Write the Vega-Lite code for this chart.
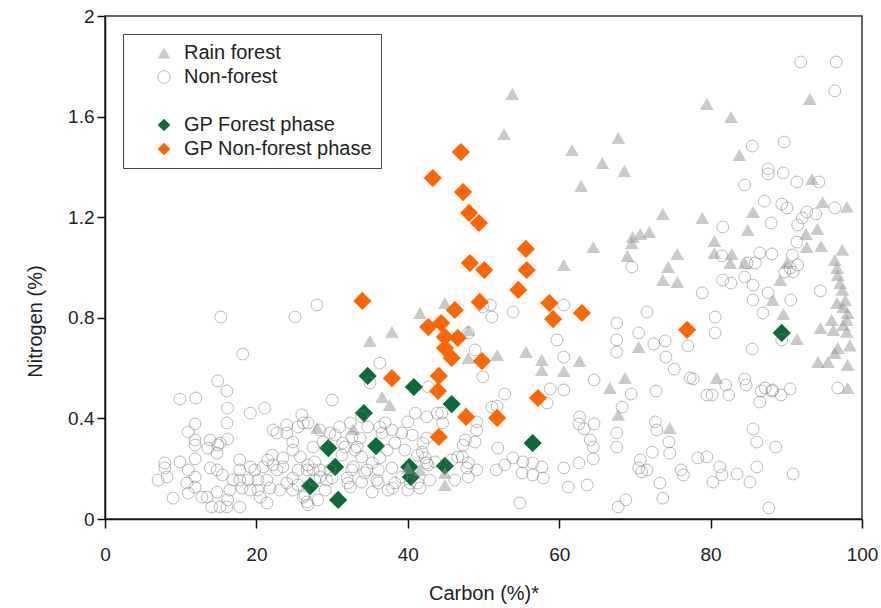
{
"$schema": "https://vega.github.io/schema/vega-lite/v6.json",
"width": 757, "height": 503,
"autosize": {"type": "none"},
"padding": {"left": 105, "top": 16, "right": 19, "bottom": 89},
"background": "white",
"config": {
  "view": {"stroke": "#333", "strokeWidth": 1.5},
  "font": "Liberation Sans",
  "axis": {"domainColor": "#111", "domainWidth": 1.5, "tickColor": "#111", "tickWidth": 1.5, "labelFontSize": 19, "labelColor": "#222", "labelFont": "Liberation Sans", "titleFont": "Liberation Sans", "titleFontSize": 20, "titleFontWeight": "normal", "titleColor": "#222", "grid": false, "labelFlush": false, "labelOverlap": false}
},
"data": {"values": [
{"carbon":34.7,"nitrogen":0.569,"group":"GP Forest phase"},
{"carbon":40.8,"nitrogen":0.525,"group":"GP Forest phase"},
{"carbon":45.8,"nitrogen":0.457,"group":"GP Forest phase"},
{"carbon":34.2,"nitrogen":0.421,"group":"GP Forest phase"},
{"carbon":35.8,"nitrogen":0.290,"group":"GP Forest phase"},
{"carbon":29.5,"nitrogen":0.282,"group":"GP Forest phase"},
{"carbon":30.4,"nitrogen":0.207,"group":"GP Forest phase"},
{"carbon":40.2,"nitrogen":0.207,"group":"GP Forest phase"},
{"carbon":40.4,"nitrogen":0.167,"group":"GP Forest phase"},
{"carbon":44.9,"nitrogen":0.211,"group":"GP Forest phase"},
{"carbon":27.1,"nitrogen":0.131,"group":"GP Forest phase"},
{"carbon":30.8,"nitrogen":0.076,"group":"GP Forest phase"},
{"carbon":56.5,"nitrogen":0.302,"group":"GP Forest phase"},
{"carbon":89.4,"nitrogen":0.740,"group":"GP Forest phase"},
{"carbon":53.8,"nitrogen":1.690,"group":"Rain forest"},
{"carbon":52.7,"nitrogen":1.531,"group":"Rain forest"},
{"carbon":61.7,"nitrogen":1.467,"group":"Rain forest"},
{"carbon":67.8,"nitrogen":1.515,"group":"Rain forest"},
{"carbon":65.7,"nitrogen":1.415,"group":"Rain forest"},
{"carbon":68.6,"nitrogen":1.384,"group":"Rain forest"},
{"carbon":62.9,"nitrogen":1.324,"group":"Rain forest"},
{"carbon":73.7,"nitrogen":1.213,"group":"Rain forest"},
{"carbon":69.7,"nitrogen":1.121,"group":"Rain forest"},
{"carbon":70.7,"nitrogen":1.133,"group":"Rain forest"},
{"carbon":71.9,"nitrogen":1.141,"group":"Rain forest"},
{"carbon":69.6,"nitrogen":1.097,"group":"Rain forest"},
{"carbon":64.5,"nitrogen":1.081,"group":"Rain forest"},
{"carbon":69.0,"nitrogen":1.046,"group":"Rain forest"},
{"carbon":75.6,"nitrogen":1.054,"group":"Rain forest"},
{"carbon":60.6,"nitrogen":1.010,"group":"Rain forest"},
{"carbon":74.4,"nitrogen":1.002,"group":"Rain forest"},
{"carbon":79.5,"nitrogen":1.650,"group":"Rain forest"},
{"carbon":82.7,"nitrogen":1.598,"group":"Rain forest"},
{"carbon":93.1,"nitrogen":1.670,"group":"Rain forest"},
{"carbon":83.8,"nitrogen":1.447,"group":"Rain forest"},
{"carbon":93.4,"nitrogen":1.352,"group":"Rain forest"},
{"carbon":94.8,"nitrogen":1.260,"group":"Rain forest"},
{"carbon":98.0,"nitrogen":1.241,"group":"Rain forest"},
{"carbon":85.6,"nitrogen":1.221,"group":"Rain forest"},
{"carbon":78.9,"nitrogen":1.197,"group":"Rain forest"},
{"carbon":84.9,"nitrogen":1.149,"group":"Rain forest"},
{"carbon":94.1,"nitrogen":1.153,"group":"Rain forest"},
{"carbon":92.6,"nitrogen":1.133,"group":"Rain forest"},
{"carbon":80.5,"nitrogen":1.105,"group":"Rain forest"},
{"carbon":92.7,"nitrogen":1.081,"group":"Rain forest"},
{"carbon":94.6,"nitrogen":1.085,"group":"Rain forest"},
{"carbon":80.5,"nitrogen":1.058,"group":"Rain forest"},
{"carbon":82.8,"nitrogen":1.054,"group":"Rain forest"},
{"carbon":82.6,"nitrogen":1.018,"group":"Rain forest"},
{"carbon":84.5,"nitrogen":1.018,"group":"Rain forest"},
{"carbon":96.4,"nitrogen":1.030,"group":"Rain forest"},
{"carbon":96.7,"nitrogen":0.998,"group":"Rain forest"},
{"carbon":90.1,"nitrogen":1.018,"group":"Rain forest"},
{"carbon":96.8,"nitrogen":0.970,"group":"Rain forest"},
{"carbon":89.2,"nitrogen":0.950,"group":"Rain forest"},
{"carbon":97.1,"nitrogen":0.938,"group":"Rain forest"},
{"carbon":97.4,"nitrogen":0.911,"group":"Rain forest"},
{"carbon":88.2,"nitrogen":0.871,"group":"Rain forest"},
{"carbon":96.7,"nitrogen":0.859,"group":"Rain forest"},
{"carbon":97.5,"nitrogen":0.843,"group":"Rain forest"},
{"carbon":98.1,"nitrogen":0.819,"group":"Rain forest"},
{"carbon":98.0,"nitrogen":0.791,"group":"Rain forest"},
{"carbon":89.6,"nitrogen":0.815,"group":"Rain forest"},
{"carbon":96.0,"nitrogen":0.791,"group":"Rain forest"},
{"carbon":97.5,"nitrogen":0.771,"group":"Rain forest"},
{"carbon":94.5,"nitrogen":0.759,"group":"Rain forest"},
{"carbon":96.2,"nitrogen":0.751,"group":"Rain forest"},
{"carbon":98.0,"nitrogen":0.744,"group":"Rain forest"},
{"carbon":91.4,"nitrogen":0.716,"group":"Rain forest"},
{"carbon":96.8,"nitrogen":0.680,"group":"Rain forest"},
{"carbon":96.4,"nitrogen":0.660,"group":"Rain forest"},
{"carbon":94.2,"nitrogen":0.624,"group":"Rain forest"},
{"carbon":95.5,"nitrogen":0.624,"group":"Rain forest"},
{"carbon":98.1,"nitrogen":0.612,"group":"Rain forest"},
{"carbon":98.1,"nitrogen":0.521,"group":"Rain forest"},
{"carbon":97.4,"nitrogen":1.070,"group":"Rain forest"},
{"carbon":97.8,"nitrogen":0.870,"group":"Rain forest"},
{"carbon":98.4,"nitrogen":0.690,"group":"Rain forest"},
{"carbon":73.7,"nitrogen":0.950,"group":"Rain forest"},
{"carbon":75.6,"nitrogen":0.942,"group":"Rain forest"},
{"carbon":51.8,"nitrogen":0.652,"group":"Rain forest"},
{"carbon":55.6,"nitrogen":0.664,"group":"Rain forest"},
{"carbon":57.7,"nitrogen":0.632,"group":"Rain forest"},
{"carbon":57.7,"nitrogen":0.592,"group":"Rain forest"},
{"carbon":60.6,"nitrogen":0.588,"group":"Rain forest"},
{"carbon":62.7,"nitrogen":0.628,"group":"Rain forest"},
{"carbon":68.7,"nitrogen":0.561,"group":"Rain forest"},
{"carbon":66.7,"nitrogen":0.521,"group":"Rain forest"},
{"carbon":70.5,"nitrogen":0.684,"group":"Rain forest"},
{"carbon":67.8,"nitrogen":0.414,"group":"Rain forest"},
{"carbon":74.6,"nitrogen":0.362,"group":"Rain forest"},
{"carbon":80.8,"nitrogen":0.561,"group":"Rain forest"},
{"carbon":44.9,"nitrogen":0.859,"group":"Rain forest"},
{"carbon":41.6,"nitrogen":0.819,"group":"Rain forest"},
{"carbon":48.0,"nitrogen":0.751,"group":"Rain forest"},
{"carbon":37.9,"nitrogen":0.744,"group":"Rain forest"},
{"carbon":35.0,"nitrogen":0.708,"group":"Rain forest"},
{"carbon":48.0,"nitrogen":0.640,"group":"Rain forest"},
{"carbon":36.6,"nitrogen":0.485,"group":"Rain forest"},
{"carbon":37.6,"nitrogen":0.453,"group":"Rain forest"},
{"carbon":28.0,"nitrogen":0.362,"group":"Rain forest"},
{"carbon":32.8,"nitrogen":0.358,"group":"Rain forest"},
{"carbon":40.0,"nitrogen":0.203,"group":"Rain forest"},
{"carbon":41.6,"nitrogen":0.195,"group":"Rain forest"},
{"carbon":44.9,"nitrogen":0.183,"group":"Rain forest"},
{"carbon":44.9,"nitrogen":0.135,"group":"Rain forest"},
{"carbon":15.3,"nitrogen":0.803,"group":"Non-forest"},
{"carbon":25.1,"nitrogen":0.803,"group":"Non-forest"},
{"carbon":18.2,"nitrogen":0.656,"group":"Non-forest"},
{"carbon":14.9,"nitrogen":0.549,"group":"Non-forest"},
{"carbon":16.1,"nitrogen":0.509,"group":"Non-forest"},
{"carbon":9.9,"nitrogen":0.477,"group":"Non-forest"},
{"carbon":12.0,"nitrogen":0.481,"group":"Non-forest"},
{"carbon":16.2,"nitrogen":0.441,"group":"Non-forest"},
{"carbon":19.2,"nitrogen":0.421,"group":"Non-forest"},
{"carbon":21.1,"nitrogen":0.441,"group":"Non-forest"},
{"carbon":26.0,"nitrogen":0.414,"group":"Non-forest"},
{"carbon":16.1,"nitrogen":0.382,"group":"Non-forest"},
{"carbon":11.9,"nitrogen":0.378,"group":"Non-forest"},
{"carbon":11.0,"nitrogen":0.346,"group":"Non-forest"},
{"carbon":11.9,"nitrogen":0.314,"group":"Non-forest"},
{"carbon":13.9,"nitrogen":0.314,"group":"Non-forest"},
{"carbon":15.2,"nitrogen":0.302,"group":"Non-forest"},
{"carbon":16.2,"nitrogen":0.318,"group":"Non-forest"},
{"carbon":13.6,"nitrogen":0.282,"group":"Non-forest"},
{"carbon":14.8,"nitrogen":0.262,"group":"Non-forest"},
{"carbon":11.9,"nitrogen":0.294,"group":"Non-forest"},
{"carbon":11.9,"nitrogen":0.239,"group":"Non-forest"},
{"carbon":9.9,"nitrogen":0.227,"group":"Non-forest"},
{"carbon":7.9,"nitrogen":0.223,"group":"Non-forest"},
{"carbon":7.9,"nitrogen":0.203,"group":"Non-forest"},
{"carbon":7.0,"nitrogen":0.155,"group":"Non-forest"},
{"carbon":8.2,"nitrogen":0.167,"group":"Non-forest"},
{"carbon":11.0,"nitrogen":0.195,"group":"Non-forest"},
{"carbon":13.9,"nitrogen":0.203,"group":"Non-forest"},
{"carbon":14.8,"nitrogen":0.195,"group":"Non-forest"},
{"carbon":15.5,"nitrogen":0.175,"group":"Non-forest"},
{"carbon":11.9,"nitrogen":0.167,"group":"Non-forest"},
{"carbon":10.8,"nitrogen":0.143,"group":"Non-forest"},
{"carbon":11.9,"nitrogen":0.127,"group":"Non-forest"},
{"carbon":9.0,"nitrogen":0.083,"group":"Non-forest"},
{"carbon":11.0,"nitrogen":0.103,"group":"Non-forest"},
{"carbon":12.8,"nitrogen":0.087,"group":"Non-forest"},
{"carbon":13.5,"nitrogen":0.087,"group":"Non-forest"},
{"carbon":14.1,"nitrogen":0.048,"group":"Non-forest"},
{"carbon":15.2,"nitrogen":0.048,"group":"Non-forest"},
{"carbon":16.2,"nitrogen":0.076,"group":"Non-forest"},
{"carbon":16.1,"nitrogen":0.048,"group":"Non-forest"},
{"carbon":17.8,"nitrogen":0.048,"group":"Non-forest"},
{"carbon":14.8,"nitrogen":0.107,"group":"Non-forest"},
{"carbon":16.5,"nitrogen":0.115,"group":"Non-forest"},
{"carbon":18.1,"nitrogen":0.123,"group":"Non-forest"},
{"carbon":17.8,"nitrogen":0.155,"group":"Non-forest"},
{"carbon":17.8,"nitrogen":0.235,"group":"Non-forest"},
{"carbon":19.2,"nitrogen":0.207,"group":"Non-forest"},
{"carbon":19.8,"nitrogen":0.195,"group":"Non-forest"},
{"carbon":17.8,"nitrogen":0.195,"group":"Non-forest"},
{"carbon":16.9,"nitrogen":0.155,"group":"Non-forest"},
{"carbon":18.9,"nitrogen":0.155,"group":"Non-forest"},
{"carbon":20.2,"nitrogen":0.155,"group":"Non-forest"},
{"carbon":20.9,"nitrogen":0.207,"group":"Non-forest"},
{"carbon":21.5,"nitrogen":0.235,"group":"Non-forest"},
{"carbon":22.1,"nitrogen":0.254,"group":"Non-forest"},
{"carbon":22.2,"nitrogen":0.215,"group":"Non-forest"},
{"carbon":22.7,"nitrogen":0.195,"group":"Non-forest"},
{"carbon":23.5,"nitrogen":0.207,"group":"Non-forest"},
{"carbon":23.5,"nitrogen":0.243,"group":"Non-forest"},
{"carbon":21.4,"nitrogen":0.155,"group":"Non-forest"},
{"carbon":23.1,"nitrogen":0.115,"group":"Non-forest"},
{"carbon":21.8,"nitrogen":0.123,"group":"Non-forest"},
{"carbon":19.2,"nitrogen":0.115,"group":"Non-forest"},
{"carbon":20.2,"nitrogen":0.115,"group":"Non-forest"},
{"carbon":20.5,"nitrogen":0.087,"group":"Non-forest"},
{"carbon":21.4,"nitrogen":0.064,"group":"Non-forest"},
{"carbon":24.0,"nitrogen":0.143,"group":"Non-forest"},
{"carbon":24.8,"nitrogen":0.163,"group":"Non-forest"},
{"carbon":24.8,"nitrogen":0.115,"group":"Non-forest"},
{"carbon":26.2,"nitrogen":0.087,"group":"Non-forest"},
{"carbon":26.7,"nitrogen":0.068,"group":"Non-forest"},
{"carbon":25.5,"nitrogen":0.195,"group":"Non-forest"},
{"carbon":26.7,"nitrogen":0.195,"group":"Non-forest"},
{"carbon":27.5,"nitrogen":0.195,"group":"Non-forest"},
{"carbon":22.7,"nitrogen":0.342,"group":"Non-forest"},
{"carbon":22.2,"nitrogen":0.354,"group":"Non-forest"},
{"carbon":24.0,"nitrogen":0.374,"group":"Non-forest"},
{"carbon":24.8,"nitrogen":0.306,"group":"Non-forest"},
{"carbon":24.8,"nitrogen":0.274,"group":"Non-forest"},
{"carbon":24.0,"nitrogen":0.342,"group":"Non-forest"},
{"carbon":26.2,"nitrogen":0.382,"group":"Non-forest"},
{"carbon":27.5,"nitrogen":0.286,"group":"Non-forest"},
{"carbon":27.7,"nitrogen":0.227,"group":"Non-forest"},
{"carbon":14.9,"nitrogen":0.294,"group":"Non-forest"},
{"carbon":28.0,"nitrogen":0.851,"group":"Non-forest"},
{"carbon":36.3,"nitrogen":0.620,"group":"Non-forest"},
{"carbon":35.0,"nitrogen":0.541,"group":"Non-forest"},
{"carbon":30.0,"nitrogen":0.473,"group":"Non-forest"},
{"carbon":26.8,"nitrogen":0.382,"group":"Non-forest"},
{"carbon":25.5,"nitrogen":0.366,"group":"Non-forest"},
{"carbon":30.4,"nitrogen":0.334,"group":"Non-forest"},
{"carbon":32.6,"nitrogen":0.326,"group":"Non-forest"},
{"carbon":33.9,"nitrogen":0.406,"group":"Non-forest"},
{"carbon":34.7,"nitrogen":0.366,"group":"Non-forest"},
{"carbon":36.6,"nitrogen":0.342,"group":"Non-forest"},
{"carbon":37.9,"nitrogen":0.354,"group":"Non-forest"},
{"carbon":39.2,"nitrogen":0.342,"group":"Non-forest"},
{"carbon":40.0,"nitrogen":0.386,"group":"Non-forest"},
{"carbon":41.0,"nitrogen":0.421,"group":"Non-forest"},
{"carbon":42.5,"nitrogen":0.406,"group":"Non-forest"},
{"carbon":37.0,"nitrogen":0.382,"group":"Non-forest"},
{"carbon":33.7,"nitrogen":0.322,"group":"Non-forest"},
{"carbon":31.7,"nitrogen":0.286,"group":"Non-forest"},
{"carbon":33.0,"nitrogen":0.274,"group":"Non-forest"},
{"carbon":31.3,"nitrogen":0.254,"group":"Non-forest"},
{"carbon":33.9,"nitrogen":0.247,"group":"Non-forest"},
{"carbon":35.3,"nitrogen":0.223,"group":"Non-forest"},
{"carbon":36.3,"nitrogen":0.243,"group":"Non-forest"},
{"carbon":37.3,"nitrogen":0.274,"group":"Non-forest"},
{"carbon":38.3,"nitrogen":0.302,"group":"Non-forest"},
{"carbon":39.6,"nitrogen":0.274,"group":"Non-forest"},
{"carbon":41.3,"nitrogen":0.254,"group":"Non-forest"},
{"carbon":42.5,"nitrogen":0.223,"group":"Non-forest"},
{"carbon":43.6,"nitrogen":0.227,"group":"Non-forest"},
{"carbon":45.8,"nitrogen":0.235,"group":"Non-forest"},
{"carbon":47.2,"nitrogen":0.247,"group":"Non-forest"},
{"carbon":48.0,"nitrogen":0.223,"group":"Non-forest"},
{"carbon":49.1,"nitrogen":0.195,"group":"Non-forest"},
{"carbon":48.0,"nitrogen":0.167,"group":"Non-forest"},
{"carbon":46.2,"nitrogen":0.155,"group":"Non-forest"},
{"carbon":41.3,"nitrogen":0.143,"group":"Non-forest"},
{"carbon":40.0,"nitrogen":0.115,"group":"Non-forest"},
{"carbon":38.3,"nitrogen":0.143,"group":"Non-forest"},
{"carbon":37.9,"nitrogen":0.203,"group":"Non-forest"},
{"carbon":36.1,"nitrogen":0.195,"group":"Non-forest"},
{"carbon":34.3,"nitrogen":0.183,"group":"Non-forest"},
{"carbon":32.6,"nitrogen":0.195,"group":"Non-forest"},
{"carbon":32.0,"nitrogen":0.163,"group":"Non-forest"},
{"carbon":33.9,"nitrogen":0.147,"group":"Non-forest"},
{"carbon":36.1,"nitrogen":0.143,"group":"Non-forest"},
{"carbon":37.4,"nitrogen":0.115,"group":"Non-forest"},
{"carbon":39.2,"nitrogen":0.167,"group":"Non-forest"},
{"carbon":30.0,"nitrogen":0.163,"group":"Non-forest"},
{"carbon":28.4,"nitrogen":0.195,"group":"Non-forest"},
{"carbon":27.7,"nitrogen":0.155,"group":"Non-forest"},
{"carbon":26.8,"nitrogen":0.215,"group":"Non-forest"},
{"carbon":25.8,"nitrogen":0.247,"group":"Non-forest"},
{"carbon":25.5,"nitrogen":0.135,"group":"Non-forest"},
{"carbon":26.4,"nitrogen":0.095,"group":"Non-forest"},
{"carbon":28.1,"nitrogen":0.076,"group":"Non-forest"},
{"carbon":26.8,"nitrogen":0.056,"group":"Non-forest"},
{"carbon":29.1,"nitrogen":0.115,"group":"Non-forest"},
{"carbon":32.4,"nitrogen":0.127,"group":"Non-forest"},
{"carbon":35.3,"nitrogen":0.107,"group":"Non-forest"},
{"carbon":49.9,"nitrogen":0.843,"group":"Non-forest"},
{"carbon":48.9,"nitrogen":0.672,"group":"Non-forest"},
{"carbon":49.9,"nitrogen":0.565,"group":"Non-forest"},
{"carbon":49.1,"nitrogen":0.354,"group":"Non-forest"},
{"carbon":47.6,"nitrogen":0.314,"group":"Non-forest"},
{"carbon":48.9,"nitrogen":0.306,"group":"Non-forest"},
{"carbon":51.1,"nitrogen":0.445,"group":"Non-forest"},
{"carbon":48.0,"nitrogen":0.740,"group":"Non-forest"},
{"carbon":51.1,"nitrogen":0.803,"group":"Non-forest"},
{"carbon":42.7,"nitrogen":0.525,"group":"Non-forest"},
{"carbon":44.5,"nitrogen":0.421,"group":"Non-forest"},
{"carbon":41.9,"nitrogen":0.266,"group":"Non-forest"},
{"carbon":36.3,"nitrogen":0.366,"group":"Non-forest"},
{"carbon":32.4,"nitrogen":0.382,"group":"Non-forest"},
{"carbon":31.0,"nitrogen":0.366,"group":"Non-forest"},
{"carbon":29.7,"nitrogen":0.342,"group":"Non-forest"},
{"carbon":28.4,"nitrogen":0.354,"group":"Non-forest"},
{"carbon":28.8,"nitrogen":0.306,"group":"Non-forest"},
{"carbon":31.4,"nitrogen":0.302,"group":"Non-forest"},
{"carbon":33.3,"nitrogen":0.286,"group":"Non-forest"},
{"carbon":42.0,"nitrogen":0.302,"group":"Non-forest"},
{"carbon":40.6,"nitrogen":0.334,"group":"Non-forest"},
{"carbon":42.5,"nitrogen":0.322,"group":"Non-forest"},
{"carbon":43.9,"nitrogen":0.421,"group":"Non-forest"},
{"carbon":44.6,"nitrogen":0.382,"group":"Non-forest"},
{"carbon":49.1,"nitrogen":0.386,"group":"Non-forest"},
{"carbon":47.3,"nitrogen":0.294,"group":"Non-forest"},
{"carbon":46.6,"nitrogen":0.247,"group":"Non-forest"},
{"carbon":47.8,"nitrogen":0.203,"group":"Non-forest"},
{"carbon":38.0,"nitrogen":0.123,"group":"Non-forest"},
{"carbon":35.9,"nitrogen":0.155,"group":"Non-forest"},
{"carbon":34.6,"nitrogen":0.195,"group":"Non-forest"},
{"carbon":32.8,"nitrogen":0.207,"group":"Non-forest"},
{"carbon":29.7,"nitrogen":0.195,"group":"Non-forest"},
{"carbon":28.4,"nitrogen":0.167,"group":"Non-forest"},
{"carbon":29.3,"nitrogen":0.155,"group":"Non-forest"},
{"carbon":32.1,"nitrogen":0.143,"group":"Non-forest"},
{"carbon":40.3,"nitrogen":0.143,"group":"Non-forest"},
{"carbon":41.6,"nitrogen":0.123,"group":"Non-forest"},
{"carbon":42.9,"nitrogen":0.155,"group":"Non-forest"},
{"carbon":42.7,"nitrogen":0.215,"group":"Non-forest"},
{"carbon":42.3,"nitrogen":0.243,"group":"Non-forest"},
{"carbon":50.9,"nitrogen":0.851,"group":"Non-forest"},
{"carbon":53.9,"nitrogen":0.823,"group":"Non-forest"},
{"carbon":60.6,"nitrogen":0.851,"group":"Non-forest"},
{"carbon":67.6,"nitrogen":0.779,"group":"Non-forest"},
{"carbon":70.5,"nitrogen":0.740,"group":"Non-forest"},
{"carbon":71.6,"nitrogen":0.823,"group":"Non-forest"},
{"carbon":59.7,"nitrogen":0.712,"group":"Non-forest"},
{"carbon":67.6,"nitrogen":0.712,"group":"Non-forest"},
{"carbon":67.6,"nitrogen":0.664,"group":"Non-forest"},
{"carbon":72.5,"nitrogen":0.696,"group":"Non-forest"},
{"carbon":74.0,"nitrogen":0.708,"group":"Non-forest"},
{"carbon":74.1,"nitrogen":0.644,"group":"Non-forest"},
{"carbon":75.2,"nitrogen":0.596,"group":"Non-forest"},
{"carbon":77.3,"nitrogen":0.561,"group":"Non-forest"},
{"carbon":60.6,"nitrogen":0.644,"group":"Non-forest"},
{"carbon":64.6,"nitrogen":0.553,"group":"Non-forest"},
{"carbon":60.6,"nitrogen":0.513,"group":"Non-forest"},
{"carbon":58.8,"nitrogen":0.517,"group":"Non-forest"},
{"carbon":58.4,"nitrogen":0.461,"group":"Non-forest"},
{"carbon":69.5,"nitrogen":0.497,"group":"Non-forest"},
{"carbon":72.8,"nitrogen":0.509,"group":"Non-forest"},
{"carbon":68.3,"nitrogen":0.445,"group":"Non-forest"},
{"carbon":52.8,"nitrogen":0.497,"group":"Non-forest"},
{"carbon":51.8,"nitrogen":0.449,"group":"Non-forest"},
{"carbon":62.7,"nitrogen":0.406,"group":"Non-forest"},
{"carbon":62.6,"nitrogen":0.378,"group":"Non-forest"},
{"carbon":63.3,"nitrogen":0.358,"group":"Non-forest"},
{"carbon":64.6,"nitrogen":0.378,"group":"Non-forest"},
{"carbon":64.1,"nitrogen":0.314,"group":"Non-forest"},
{"carbon":64.5,"nitrogen":0.286,"group":"Non-forest"},
{"carbon":67.6,"nitrogen":0.342,"group":"Non-forest"},
{"carbon":67.6,"nitrogen":0.286,"group":"Non-forest"},
{"carbon":72.7,"nitrogen":0.386,"group":"Non-forest"},
{"carbon":72.9,"nitrogen":0.354,"group":"Non-forest"},
{"carbon":74.5,"nitrogen":0.306,"group":"Non-forest"},
{"carbon":74.6,"nitrogen":0.262,"group":"Non-forest"},
{"carbon":72.3,"nitrogen":0.266,"group":"Non-forest"},
{"carbon":70.7,"nitrogen":0.235,"group":"Non-forest"},
{"carbon":70.5,"nitrogen":0.203,"group":"Non-forest"},
{"carbon":70.9,"nitrogen":0.187,"group":"Non-forest"},
{"carbon":71.6,"nitrogen":0.195,"group":"Non-forest"},
{"carbon":64.5,"nitrogen":0.239,"group":"Non-forest"},
{"carbon":62.6,"nitrogen":0.223,"group":"Non-forest"},
{"carbon":60.6,"nitrogen":0.203,"group":"Non-forest"},
{"carbon":76.1,"nitrogen":0.195,"group":"Non-forest"},
{"carbon":76.4,"nitrogen":0.175,"group":"Non-forest"},
{"carbon":73.3,"nitrogen":0.143,"group":"Non-forest"},
{"carbon":73.7,"nitrogen":0.083,"group":"Non-forest"},
{"carbon":63.7,"nitrogen":0.135,"group":"Non-forest"},
{"carbon":61.2,"nitrogen":0.127,"group":"Non-forest"},
{"carbon":67.8,"nitrogen":0.048,"group":"Non-forest"},
{"carbon":68.8,"nitrogen":0.076,"group":"Non-forest"},
{"carbon":54.8,"nitrogen":0.064,"group":"Non-forest"},
{"carbon":51.9,"nitrogen":0.282,"group":"Non-forest"},
{"carbon":53.9,"nitrogen":0.243,"group":"Non-forest"},
{"carbon":52.8,"nitrogen":0.215,"group":"Non-forest"},
{"carbon":51.7,"nitrogen":0.195,"group":"Non-forest"},
{"carbon":55.2,"nitrogen":0.227,"group":"Non-forest"},
{"carbon":56.5,"nitrogen":0.223,"group":"Non-forest"},
{"carbon":57.7,"nitrogen":0.207,"group":"Non-forest"},
{"carbon":55.1,"nitrogen":0.183,"group":"Non-forest"},
{"carbon":56.5,"nitrogen":0.175,"group":"Non-forest"},
{"carbon":57.9,"nitrogen":0.163,"group":"Non-forest"},
{"carbon":69.6,"nitrogen":1.002,"group":"Non-forest"},
{"carbon":81.6,"nitrogen":0.950,"group":"Non-forest"},
{"carbon":82.7,"nitrogen":0.938,"group":"Non-forest"},
{"carbon":84.5,"nitrogen":0.962,"group":"Non-forest"},
{"carbon":85.6,"nitrogen":0.930,"group":"Non-forest"},
{"carbon":85.6,"nitrogen":0.871,"group":"Non-forest"},
{"carbon":87.6,"nitrogen":0.899,"group":"Non-forest"},
{"carbon":90.6,"nitrogen":0.871,"group":"Non-forest"},
{"carbon":86.9,"nitrogen":0.819,"group":"Non-forest"},
{"carbon":78.9,"nitrogen":0.899,"group":"Non-forest"},
{"carbon":80.6,"nitrogen":0.803,"group":"Non-forest"},
{"carbon":80.6,"nitrogen":0.740,"group":"Non-forest"},
{"carbon":77.0,"nitrogen":0.688,"group":"Non-forest"},
{"carbon":85.5,"nitrogen":0.676,"group":"Non-forest"},
{"carbon":89.4,"nitrogen":0.712,"group":"Non-forest"},
{"carbon":94.5,"nitrogen":0.907,"group":"Non-forest"},
{"carbon":89.8,"nitrogen":0.982,"group":"Non-forest"},
{"carbon":90.9,"nitrogen":0.982,"group":"Non-forest"},
{"carbon":77.7,"nitrogen":0.557,"group":"Non-forest"},
{"carbon":79.5,"nitrogen":0.493,"group":"Non-forest"},
{"carbon":80.2,"nitrogen":0.493,"group":"Non-forest"},
{"carbon":82.0,"nitrogen":0.533,"group":"Non-forest"},
{"carbon":82.4,"nitrogen":0.493,"group":"Non-forest"},
{"carbon":84.5,"nitrogen":0.557,"group":"Non-forest"},
{"carbon":84.7,"nitrogen":0.533,"group":"Non-forest"},
{"carbon":86.7,"nitrogen":0.509,"group":"Non-forest"},
{"carbon":86.5,"nitrogen":0.465,"group":"Non-forest"},
{"carbon":88.1,"nitrogen":0.509,"group":"Non-forest"},
{"carbon":89.3,"nitrogen":0.493,"group":"Non-forest"},
{"carbon":90.5,"nitrogen":0.517,"group":"Non-forest"},
{"carbon":96.8,"nitrogen":0.521,"group":"Non-forest"},
{"carbon":85.6,"nitrogen":0.358,"group":"Non-forest"},
{"carbon":86.1,"nitrogen":0.306,"group":"Non-forest"},
{"carbon":88.6,"nitrogen":0.286,"group":"Non-forest"},
{"carbon":78.3,"nitrogen":0.243,"group":"Non-forest"},
{"carbon":79.5,"nitrogen":0.247,"group":"Non-forest"},
{"carbon":81.2,"nitrogen":0.207,"group":"Non-forest"},
{"carbon":81.5,"nitrogen":0.175,"group":"Non-forest"},
{"carbon":80.3,"nitrogen":0.147,"group":"Non-forest"},
{"carbon":83.5,"nitrogen":0.179,"group":"Non-forest"},
{"carbon":85.2,"nitrogen":0.147,"group":"Non-forest"},
{"carbon":86.1,"nitrogen":0.207,"group":"Non-forest"},
{"carbon":90.9,"nitrogen":0.179,"group":"Non-forest"},
{"carbon":87.7,"nitrogen":0.044,"group":"Non-forest"},
{"carbon":91.9,"nitrogen":1.817,"group":"Non-forest"},
{"carbon":96.6,"nitrogen":1.817,"group":"Non-forest"},
{"carbon":96.4,"nitrogen":1.702,"group":"Non-forest"},
{"carbon":85.5,"nitrogen":1.483,"group":"Non-forest"},
{"carbon":89.7,"nitrogen":1.499,"group":"Non-forest"},
{"carbon":87.6,"nitrogen":1.392,"group":"Non-forest"},
{"carbon":87.6,"nitrogen":1.372,"group":"Non-forest"},
{"carbon":89.6,"nitrogen":1.376,"group":"Non-forest"},
{"carbon":91.4,"nitrogen":1.340,"group":"Non-forest"},
{"carbon":94.3,"nitrogen":1.340,"group":"Non-forest"},
{"carbon":84.5,"nitrogen":1.328,"group":"Non-forest"},
{"carbon":87.1,"nitrogen":1.264,"group":"Non-forest"},
{"carbon":89.4,"nitrogen":1.252,"group":"Non-forest"},
{"carbon":90.1,"nitrogen":1.237,"group":"Non-forest"},
{"carbon":88.0,"nitrogen":1.177,"group":"Non-forest"},
{"carbon":92.7,"nitrogen":1.221,"group":"Non-forest"},
{"carbon":93.9,"nitrogen":1.213,"group":"Non-forest"},
{"carbon":96.4,"nitrogen":1.237,"group":"Non-forest"},
{"carbon":92.1,"nitrogen":1.197,"group":"Non-forest"},
{"carbon":91.5,"nitrogen":1.169,"group":"Non-forest"},
{"carbon":91.4,"nitrogen":1.101,"group":"Non-forest"},
{"carbon":81.6,"nitrogen":1.161,"group":"Non-forest"},
{"carbon":86.5,"nitrogen":1.058,"group":"Non-forest"},
{"carbon":88.1,"nitrogen":1.054,"group":"Non-forest"},
{"carbon":90.8,"nitrogen":1.050,"group":"Non-forest"},
{"carbon":81.5,"nitrogen":1.046,"group":"Non-forest"},
{"carbon":84.8,"nitrogen":1.018,"group":"Non-forest"},
{"carbon":85.9,"nitrogen":1.018,"group":"Non-forest"},
{"carbon":91.5,"nitrogen":1.010,"group":"Non-forest"},
{"carbon":90.5,"nitrogen":0.998,"group":"Non-forest"},
{"carbon":87.2,"nitrogen":0.521,"group":"Non-forest"},
{"carbon":88.2,"nitrogen":0.513,"group":"Non-forest"},
{"carbon":34.0,"nitrogen":0.867,"group":"GP Non-forest phase"},
{"carbon":43.3,"nitrogen":1.356,"group":"GP Non-forest phase"},
{"carbon":47.0,"nitrogen":1.459,"group":"GP Non-forest phase"},
{"carbon":47.3,"nitrogen":1.300,"group":"GP Non-forest phase"},
{"carbon":48.1,"nitrogen":1.217,"group":"GP Non-forest phase"},
{"carbon":49.4,"nitrogen":1.177,"group":"GP Non-forest phase"},
{"carbon":48.2,"nitrogen":1.018,"group":"GP Non-forest phase"},
{"carbon":50.1,"nitrogen":0.990,"group":"GP Non-forest phase"},
{"carbon":55.6,"nitrogen":1.074,"group":"GP Non-forest phase"},
{"carbon":55.7,"nitrogen":0.990,"group":"GP Non-forest phase"},
{"carbon":54.6,"nitrogen":0.911,"group":"GP Non-forest phase"},
{"carbon":58.7,"nitrogen":0.859,"group":"GP Non-forest phase"},
{"carbon":59.2,"nitrogen":0.795,"group":"GP Non-forest phase"},
{"carbon":63.0,"nitrogen":0.819,"group":"GP Non-forest phase"},
{"carbon":49.5,"nitrogen":0.863,"group":"GP Non-forest phase"},
{"carbon":46.2,"nitrogen":0.831,"group":"GP Non-forest phase"},
{"carbon":42.7,"nitrogen":0.763,"group":"GP Non-forest phase"},
{"carbon":44.4,"nitrogen":0.779,"group":"GP Non-forest phase"},
{"carbon":44.9,"nitrogen":0.724,"group":"GP Non-forest phase"},
{"carbon":46.6,"nitrogen":0.720,"group":"GP Non-forest phase"},
{"carbon":44.9,"nitrogen":0.680,"group":"GP Non-forest phase"},
{"carbon":45.8,"nitrogen":0.640,"group":"GP Non-forest phase"},
{"carbon":49.8,"nitrogen":0.628,"group":"GP Non-forest phase"},
{"carbon":37.9,"nitrogen":0.560,"group":"GP Non-forest phase"},
{"carbon":44.1,"nitrogen":0.569,"group":"GP Non-forest phase"},
{"carbon":44.0,"nitrogen":0.509,"group":"GP Non-forest phase"},
{"carbon":47.7,"nitrogen":0.406,"group":"GP Non-forest phase"},
{"carbon":51.8,"nitrogen":0.402,"group":"GP Non-forest phase"},
{"carbon":57.2,"nitrogen":0.481,"group":"GP Non-forest phase"},
{"carbon":44.1,"nitrogen":0.326,"group":"GP Non-forest phase"},
{"carbon":76.9,"nitrogen":0.752,"group":"GP Non-forest phase"}
]},
"encoding": {
  "x": {"field": "carbon", "type": "quantitative", "scale": {"domain": [0, 100], "nice": false, "zero": false}, "axis": {"title": "Carbon (%)*", "values": [0, 20, 40, 60, 80, 100], "tickSize": 9, "labelPadding": 17, "titlePadding": 19}},
  "y": {"field": "nitrogen", "type": "quantitative", "scale": {"domain": [0, 2], "nice": false}, "axis": {"title": "Nitrogen (%)", "values": [0, 0.4, 0.8, 1.2, 1.6, 2], "format": ".1~f", "tickSize": 8, "labelPadding": 3, "titlePadding": 22, "titleY": 305}},
  "shape": {"field": "group", "type": "nominal", "scale": {"domain": ["Rain forest", "Non-forest", " ", "GP Forest phase", "GP Non-forest phase"], "range": ["triangle-up", "circle", "circle", "diamond", "diamond"]},
    "legend": {"title": null, "orient": "top-left", "offset": 18, "strokeColor": "#444", "fillColor": "white", "padding": 9, "labelFontSize": 20, "labelFont": "Liberation Sans", "labelColor": "#222", "labelLimit": 400, "symbolSize": 160, "symbolOffset": 22, "labelOffset": 10, "rowPadding": 4, "symbolStrokeWidth": 1}},
  "color": {"field": "group", "type": "nominal", "scale": {"domain": ["Rain forest", "Non-forest", " ", "GP Forest phase", "GP Non-forest phase"], "range": ["rgba(150,150,150,0.5)", "rgba(255,255,255,0)", "rgba(255,255,255,0)", "#0b6b38", "#ff6600"]}, "legend": {"title": null}},
  "stroke": {"field": "group", "type": "nominal", "scale": {"domain": ["Rain forest", "Non-forest", " ", "GP Forest phase", "GP Non-forest phase"], "range": ["rgba(0,0,0,0)", "rgba(120,120,120,0.5)", "rgba(0,0,0,0)", "rgba(0,0,0,0)", "rgba(0,0,0,0)"]}, "legend": {"title": null}}
},
"layer": [
  {"transform": [{"filter": "datum.group == 'GP Forest phase'"}], "mark": {"type": "point", "filled": true, "strokeWidth": 1, "opacity": 1, "size": 330}},
  {"transform": [{"filter": "datum.group == 'Rain forest'"}], "mark": {"type": "point", "filled": true, "strokeWidth": 1, "opacity": 1, "size": 190}},
  {"transform": [{"filter": "datum.group == 'Non-forest'"}], "mark": {"type": "point", "filled": true, "strokeWidth": 1, "opacity": 1, "size": 140}},
  {"transform": [{"filter": "datum.group == 'GP Non-forest phase'"}], "mark": {"type": "point", "filled": true, "strokeWidth": 1, "opacity": 1, "size": 330}}
]
}
